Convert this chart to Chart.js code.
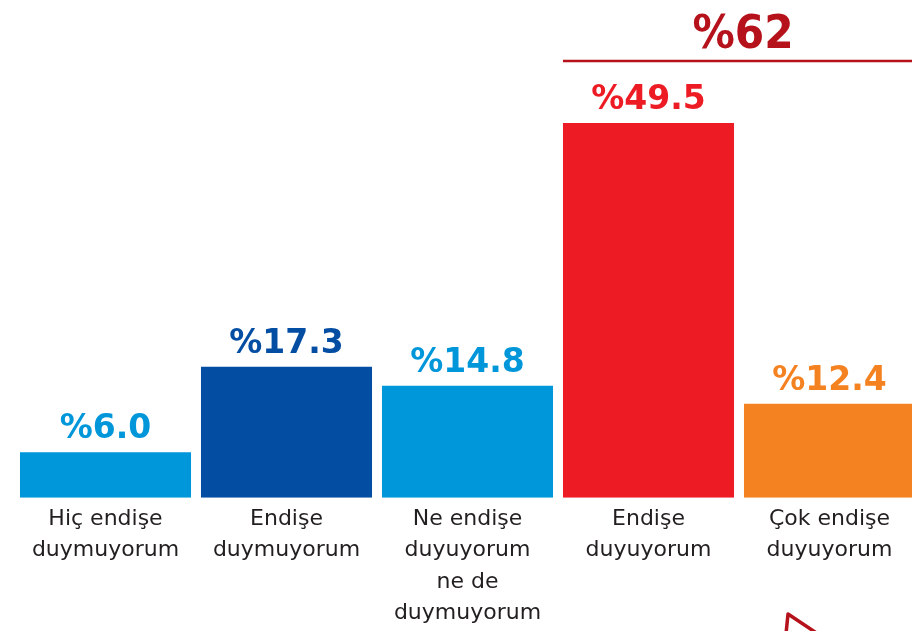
<!DOCTYPE html>
<html>
<head>
<meta charset="utf-8">
<script src="https://cdn.jsdelivr.net/npm/chart.js@4"></script>
<style>
  html, body { margin: 0; padding: 0; background: #fff; overflow: hidden; }
  #wrap { width: 935px; height: 631px; }
  canvas { display: block; }
</style>
</head>
<body>
<div id="wrap"><canvas id="barChart" width="935" height="631"></canvas></div>
<script>
// --- datos ---
const categorias = [
  ['Hiç endişe', 'duymuyorum'],
  ['Endişe', 'duymuyorum'],
  ['Ne endişe', 'duyuyorum', 'ne de', 'duymuyorum'],
  ['Endişe', 'duyuyorum'],
  ['Çok endişe', 'duyuyorum']
];
const valores = [6.0, 17.3, 14.8, 49.5, 12.4];
const colores = ['#0096da', '#034ea2', '#0096da', '#ed1c24', '#f58220'];
const grupoEndise = [3, 4];      // barras sumadas arriba
const etiquetaGrupo = '%62';
const rojoOscuro = '#b5121b';

const ctx = document.getElementById('barChart').getContext('2d');

// etiquetas de valor sobre cada barra + total del grupo
const etiquetas = {
  id: 'etiquetas',
  afterDatasetsDraw(chart) {
    const c = chart.ctx;
    const meta = chart.getDatasetMeta(0);
    c.save();
    c.textAlign = 'center';
    c.textBaseline = 'alphabetic';
    c.font = 'bold 33px "DejaVu Sans"';
    meta.data.forEach((bar, i) => {
      c.fillStyle = colores[i];
      c.fillText('%' + valores[i].toFixed(1), bar.x, bar.y - 14);
    });

    // línea y total del grupo "endişe duyuyorum"
    const b1 = meta.data[grupoEndise[0]];
    const b2 = meta.data[grupoEndise[1]];
    const x1 = b1.x - b1.width / 2;
    const x2 = b2.x + b2.width / 2;
    c.strokeStyle = rojoOscuro;
    c.lineWidth = 2.5;
    c.beginPath();
    c.moveTo(x1, 61);
    c.lineTo(x2, 61);
    c.stroke();
    c.fillStyle = rojoOscuro;
    c.font = 'bold 47px "DejaVu Sans Condensed", "DejaVu Sans"';
    c.fillText(etiquetaGrupo, (x1 + x2) / 2 + 4, 48);

    // pequeño adorno rojo abajo a la derecha
    c.lineWidth = 3.5;
    c.lineJoin = 'round';
    c.beginPath();
    c.moveTo(786, 634);
    c.lineTo(788, 614);
    c.lineTo(818, 634);
    c.stroke();
    c.restore();
  }
};

new Chart(ctx, {
  type: 'bar',
  data: {
    labels: categorias,
    datasets: [{
      data: valores,
      backgroundColor: colores,
      borderWidth: 0,
      barPercentage: 0.945,
      categoryPercentage: 1.0
    }]
  },
  options: {
    responsive: false,
    animation: false,
    layout: { padding: { left: 15, right: 15, top: 0, bottom: 0 } },
    scales: {
      y: { display: false, min: 0, max: 65.75 },
      x: {
        grid: { display: false, drawTicks: false },
        border: { display: false },
        ticks: {
          color: '#231f20',
          padding: 6,
          maxRotation: 0,
          autoSkip: false,
          font: { family: '"DejaVu Sans"', size: 22, lineHeight: 1.42 }
        },
        afterFit(scale) { scale.height = 133.3; }
      }
    },
    plugins: {
      legend: { display: false },
      tooltip: { enabled: false }
    }
  },
  plugins: [etiquetas]
});
</script>
</body>
</html>
